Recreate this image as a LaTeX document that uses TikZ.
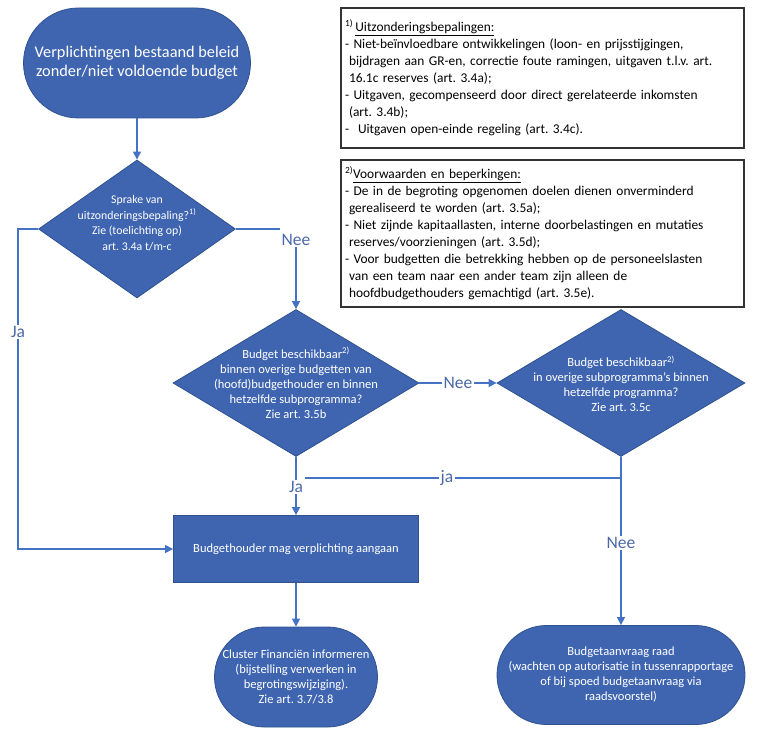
\documentclass[tikz,border=0pt]{standalone}
\usepackage{fontspec}
\setmainfont{Carlito}
\usetikzlibrary{shapes.geometric,arrows.meta}
\definecolor{fillblue}{HTML}{3F65B1}
\definecolor{edgeblue}{HTML}{2F528F}
\definecolor{lineblue}{HTML}{4472C4}
\definecolor{labelblue}{HTML}{4A68A8}
\definecolor{boxline}{HTML}{333333}
\frenchspacing
\begin{document}
\begin{tikzpicture}[x=1pt,y=-1pt,
  terminal/.style={draw=edgeblue, fill=fillblue, line width=0.8pt, rounded corners=#1, inner sep=0pt},
  decision/.style={diamond, draw=edgeblue, fill=fillblue, line width=0.8pt, inner sep=0pt},
  process/.style={rectangle, draw=edgeblue, fill=fillblue, line width=0.8pt, inner sep=0pt},
  shapetext/.style={text=white, align=center, inner sep=0pt, font=\fontsize{12.5}{15}\selectfont},
  conn/.style={draw=lineblue, line width=1.3pt},
  arrowc/.style={conn, -{Triangle[width=8pt,length=8pt]}},
  lbl/.style={text=labelblue, fill=white, inner sep=1.5pt, font=\fontsize{#1}{#1}\selectfont},
  notebox/.style={draw=boxline, line width=1.2pt, fill=white, minimum width=403pt, text width=395pt, align=left, inner sep=4pt, font=\fontsize{13.4}{17}\selectfont}
]
\useasboundingbox (0,0) rectangle (761,738);

% notes
\node[notebox, minimum height=140pt] (box1) at (542.5,78) {\textsuperscript{1)}\,\underline{Uitzonderingsbepalingen:}\\
- Niet-beïnvloedbare ontwikkelingen (loon- en prijsstijgingen,\\
\hspace*{4pt}bijdragen aan GR-en, correctie foute ramingen, uitgaven t.l.v. art.\\
\hspace*{4pt}16.1c reserves (art. 3.4a);\\
- Uitgaven, gecompenseerd door direct gerelateerde inkomsten\\
\hspace*{4pt}(art. 3.4b);\\
-~ Uitgaven open-einde regeling (art. 3.4c).};

\node[notebox, minimum height=147pt] (box2) at (542.5,233.5) {\textsuperscript{2)}\underline{Voorwaarden en beperkingen:}\\
- De in de begroting opgenomen doelen dienen onverminderd\\
\hspace*{4pt}gerealiseerd te worden (art. 3.5a);\\
- Niet zijnde kapitaallasten, interne doorbelastingen en mutaties\\
\hspace*{4pt}reserves/voorzieningen (art. 3.5d);\\
- Voor budgetten die betrekking hebben op de personeelslasten\\
\hspace*{4pt}van een team naar een ander team zijn alleen de\\
\hspace*{4pt}hoofdbudgethouders gemachtigd (art. 3.5e).};

% flow shapes
\node[terminal=55pt, minimum width=227pt, minimum height=110pt] (start) at (137,63) {};
\node[shapetext, font=\fontsize{16.3}{19}\selectfont] (startt) at (137,63) {Verplichtingen bestaand beleid\\zonder/niet voldoende budget};

\node[decision, minimum width=197pt, minimum height=138pt] (d1) at (137,229) {};
\node[shapetext, font=\fontsize{11.8}{15.5}\selectfont] (d1t) at (137,223) {Sprake van\\uitzonderingsbepaling?\textsuperscript{1)}\\Zie (toelichting op)\\art. 3.4a t/m-c};

\node[decision, minimum width=246pt, minimum height=147pt] (d2) at (296,383) {};
\node[shapetext] (d2t) at (296,383) {Budget beschikbaar\textsuperscript{2)}\\binnen overige budgetten van\\(hoofd)budgethouder en binnen\\hetzelfde subprogramma?\\Zie art. 3.5b};

\node[decision, minimum width=248pt, minimum height=147pt] (d3) at (621,383) {};
\node[shapetext] (d3t) at (621,384) {Budget beschikbaar\textsuperscript{2)}\\in overige subprogramma’s binnen\\hetzelfde programma?\\Zie art. 3.5c};

\node[process, minimum width=245pt, minimum height=67pt] (rect) at (296,549) {};
\node[shapetext] (rectt) at (296,549) {Budgethouder mag verplichting aangaan};

\node[terminal=50pt, minimum width=163pt, minimum height=100pt] (end1) at (296,677) {};
\node[shapetext] (end1t) at (296,677) {Cluster Financiën informeren\\(bijstelling verwerken in\\begrotingswijziging).\\Zie art. 3.7/3.8};

\node[terminal=49.5pt, minimum width=248pt, minimum height=99pt] (end2) at (621,675) {};
\node[shapetext] (end2t) at (621,675) {Budgetaanvraag raad\\(wachten op autorisatie in tussenrapportage\\of bij spoed budgetaanvraag via\\raadsvoorstel)};

% labels
\node[lbl=17.5] (jaA) at (18,332) {Ja};
\node[lbl=17.5] (neeA) at (296,240) {Nee};
\node[lbl=17.5] (neeB) at (458,383) {Nee};
\node[lbl=17.5] (jaB) at (296,487) {Ja};
\node[lbl=17.5] (neeC) at (621,543) {Nee};
\coordinate (jcorner) at (621,478);

% connectors
\draw[arrowc] (start.south) -- (d1.north);
\draw[conn] (d1.west) -| (jaA.north);
\draw[arrowc] (jaA.south) |- (rect.west);
\draw[conn] (d1.east) -- (d1.east -| neeA.west);
\draw[arrowc] (neeA.south) -- (d2.north);
\draw[conn] (d2.east) -- (neeB.west);
\draw[arrowc] (neeB.east) -- (d3.west);
\draw[conn] (d2.south) -- (jaB.north);
\draw[arrowc] (jaB.south) -- (rect.north);
\draw[conn] (d3.south) -- (neeC.north);
\draw[conn] (jcorner) -- node[lbl=17.5, pos=0.55] (jaC) {ja} (jcorner -| jaB.east);
\draw[arrowc] (neeC.south) -- (end2.north);
\draw[arrowc] (rect.south) -- (end1.north);
\end{tikzpicture}
\end{document}
